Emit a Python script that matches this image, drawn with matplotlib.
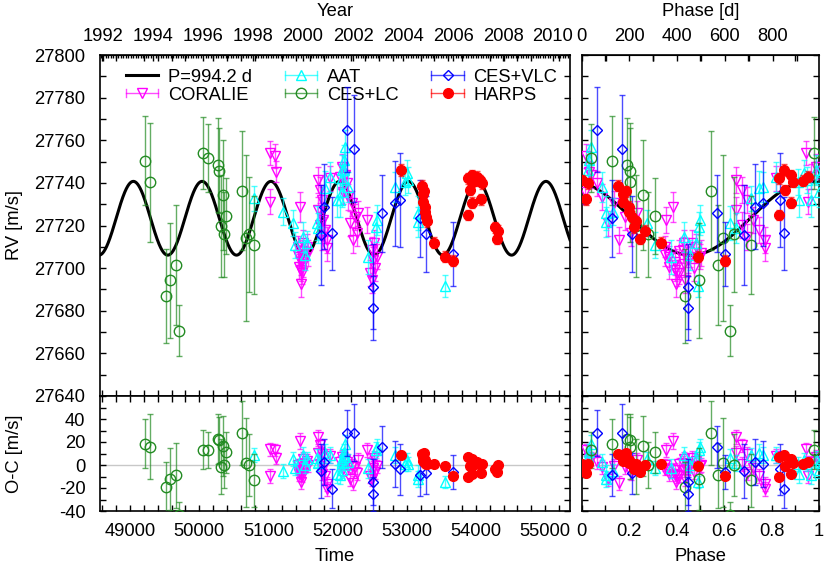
import numpy as np
import matplotlib
matplotlib.use('Agg')
import matplotlib.pyplot as plt
from matplotlib.lines import Line2D
from matplotlib.legend_handler import HandlerBase
from matplotlib.ticker import MultipleLocator, FixedLocator, FuncFormatter

plt.rcParams['font.family'] = ['Liberation Sans', 'DejaVu Sans']
FS = 13.2
plt.rcParams['font.size'] = FS

# ---------------- model parameters ----------------
P = 994.2
K = 17.3
V0 = 27723.4
ECC = 0.0
OMEGA_DEG = 14.4
TP = 49088.0

# ---------------- data (JD-2400000, RV m/s, err m/s) ----------------
cor_t = [51024, 51096, 51106, 51030, 51458, 51472, 51424, 51443, 51467, 51482,
         51506, 51530, 51443, 51482, 51554, 51424, 51506, 51467, 51578, 51723,
         51747, 51771, 51723, 51795, 51819, 51843, 51771, 51891, 51843, 51747,
         52060, 52108, 52133, 52084, 52156, 52205, 52253, 52181, 52277, 52228,
         52422, 52301, 52036, 52494, 52517, 52542, 52470, 52503, 52567, 52532]
cor_rv = [27754.2, 27752.6, 27745.2, 27731.2, 27728.8, 27692.5, 27710.0, 27705.4, 27703.0, 27708.0,
          27712.0, 27705.4, 27700.7, 27697.6, 27710.0, 27706.0, 27702.0, 27699.0, 27707.0, 27741.3,
          27736.6, 27732.0, 27727.3, 27722.6, 27717.9, 27713.2, 27714.7, 27742.1, 27709.3, 27720.2,
          27747.6, 27743.7, 27739.8, 27735.9, 27733.5, 27730.4, 27724.1, 27721.0, 27716.3, 27713.2,
          27722.6, 27725.7, 27742.9, 27708.5, 27703.8, 27700.0, 27697.6, 27694.4, 27705.4, 27712.0]
cor_err = [5.6, 5.5, 5.0, 6.0, 7.0, 6.0, 5.0, 5.0, 6.0, 5.0,
           6.0, 5.0, 6.0, 5.0, 6.0, 5.0, 6.0, 5.0, 6.0, 6.0,
           6.0, 6.0, 6.0, 6.0, 6.0, 6.0, 6.0, 6.0, 6.0, 6.0,
           6.0, 6.0, 6.0, 6.0, 6.0, 6.0, 6.0, 6.0, 6.0, 6.0,
           6.0, 6.0, 6.0, 6.0, 6.0, 6.0, 6.0, 6.0, 6.0, 6.0]

aat_t = [50793, 51207, 51352, 51385, 51506, 51554, 51530, 51699, 51723, 51819,
         51891, 51988, 52069, 52069, 52098, 52108, 52100, 52036, 52156, 52060,
         52445, 52567, 52560, 52831, 53000, 52976, 53015, 53168, 53168, 53554]
aat_rv = [27732.7, 27726.5, 27721.3, 27710.8, 27714.7, 27711.6, 27706.1, 27721.0, 27718.7, 27737.4,
          27742.9, 27732.0, 27735.9, 27742.1, 27746.0, 27757.0, 27750.7, 27732.0, 27738.2, 27746.0,
          27705.4, 27722.6, 27719.4, 27738.2, 27744.5, 27740.5, 27741.3, 27725.7, 27721.8, 27691.6]
aat_err = [6.0, 6.3, 6.0, 6.0, 7.0, 6.0, 7.0, 8.0, 7.0, 8.0,
           7.0, 8.0, 7.0, 6.0, 7.0, 8.0, 7.0, 8.0, 7.0, 7.0,
           8.0, 7.0, 7.0, 7.0, 6.0, 6.0, 6.0, 8.0, 7.0, 5.0]

lc_t = [49217, 49289, 49520, 49578, 49661, 49708, 50060, 50123, 50270, 50285,
        50340, 50311, 50388, 50359, 50624, 50673, 50721, 50793]
lc_rv = [27750.4, 27740.3, 27686.9, 27694.4, 27701.5, 27670.6, 27753.9, 27751.5, 27748.4, 27745.7,
         27734.3, 27719.8, 27724.4, 27715.9, 27736.3, 27714.0, 27715.9, 27710.8]
lc_err = [21, 28, 22, 27, 28, 12, 17, 16, 22, 20,
          26, 24, 18, 20, 28, 39, 27, 23]

vlc_t = [51756, 51804, 51925, 52133, 52238, 52517, 52517, 52639, 52831, 52903,
         53192, 53275, 53665]
vlc_rv = [27715.5, 27728.8, 27716.3, 27765.0, 27756.0, 27691.3, 27681.1, 27725.7, 27730.4, 27732.0,
          27723.4, 27716.0, 27706.6]
vlc_err = [23.5, 20, 17, 20, 25, 20, 15, 18, 20, 22,
           18, 18, 15]

har_t = [52918, 53217, 53250, 53236, 53236, 53265, 53265, 53275, 53294, 53399,
         53554, 53665, 53891, 53940, 53950, 53915, 53940, 53891, 54060, 54085,
         54075, 54012, 53990, 54277, 54325, 54302]
har_rv = [27746.0, 27738.7, 27736.0, 27734.8, 27731.2, 27728.8, 27726.5, 27724.1, 27722.0, 27711.9,
          27705.4, 27703.5, 27742.1, 27743.7, 27740.5, 27736.6, 27730.7, 27724.9, 27741.3, 27739.8,
          27732.3, 27742.9, 27741.0, 27719.1, 27717.6, 27713.7]
har_err = [3.0] + [2.5] * 25

# ---------------- axis settings ----------------
time_lim = (48566, 55361)
rv_lim = (27640, 27800)
oc_lim = (-40, 60)
year_ref_t = 48610.0
year_len = 361.4
phase_day_ticks = [0, 200, 400, 600, 800]


def kepler_rv(t):
    t = np.asarray(t, dtype=float)
    M = 2 * np.pi * (t - TP) / P
    E = M.copy()
    for _ in range(30):
        E = M + ECC * np.sin(E)
    nu = 2 * np.arctan2(np.sqrt(1 + ECC) * np.sin(E / 2), np.sqrt(1 - ECC) * np.cos(E / 2))
    w = np.radians(OMEGA_DEG)
    return V0 + K * (np.cos(nu + w) + ECC * np.cos(w))


def phase_of(t):
    return ((np.asarray(t, dtype=float) - TP) / P) % 1.0


datasets = [
    ('CORALIE', cor_t, cor_rv, cor_err, '#ff00ff', 'v', 'none', 7.0),
    ('AAT', aat_t, aat_rv, aat_err, '#00ffff', '^', 'none', 7.0),
    ('CES+LC', lc_t, lc_rv, lc_err, '#228b22', 'o', 'none', 7.5),
    ('CES+VLC', vlc_t, vlc_rv, vlc_err, '#0000ff', 'D', 'none', 5.5),
    ('HARPS', har_t, har_rv, har_err, '#ff0000', 'o', '#ff0000', 7.0),
]

fig = plt.figure(figsize=(8.3, 5.67), dpi=100)
L0, LW = 100 / 830, 470 / 830
R0, RW = 581.7 / 830, 237.3 / 830
T0y, TH = 1 - 396 / 567, 341 / 567
B0y, BH = 1 - 511 / 567, 115 / 567

ax_rv = fig.add_axes([L0, T0y, LW, TH])
ax_oc = fig.add_axes([L0, B0y, LW, BH])
ax_prv = fig.add_axes([R0, T0y, RW, TH])
ax_poc = fig.add_axes([R0, B0y, RW, BH])

for a in (ax_rv, ax_oc, ax_prv, ax_poc):
    for s in a.spines.values():
        s.set_linewidth(1.2)
    a.tick_params(which='both', direction='in', left=True, right=True, top=True, bottom=True,
                  width=1.0, labelsize=FS)
    a.tick_params(which='major', length=4.5)
    a.tick_params(which='minor', length=4.5)
    a.tick_params(axis='y', pad=10.5)
    a.tick_params(axis='x', pad=8.5)

# model curves
tt = np.linspace(time_lim[0], time_lim[1], 3000)
ax_rv.plot(tt, kepler_rv(tt), color='black', lw=2.2, zorder=2)
pp = np.linspace(0, 1, 600)
ax_prv.plot(pp, kepler_rv(TP + pp * P), color='black', lw=2.2, zorder=2)

for a in (ax_oc, ax_poc):
    a.axhline(0, color='#c8c8c8', lw=1.0, zorder=1)

z = 3
for name, t, rv, err, col, mk, mfc, ms in datasets:
    t = np.asarray(t, float)
    rv = np.asarray(rv, float)
    err = np.asarray(err, float)
    oc = rv - kepler_rv(t)
    ph = phase_of(t)
    kw = dict(fmt=mk, color=col, mfc=mfc, mec=col, ms=ms, mew=1.0, ecolor=col,
              elinewidth=1.0, capsize=2.2, capthick=1.0, zorder=z)
    for a, xx, yy in ((ax_rv, t, rv), (ax_oc, t, oc), (ax_prv, ph, rv), (ax_poc, ph, oc)):
        eb = a.errorbar(xx, yy, yerr=err, **kw)
        for c in eb[2]:
            c.set_alpha(0.7)
        for c in eb[1]:
            c.set_alpha(0.7)
    z += 1

# limits & ticks
for a in (ax_rv, ax_oc):
    a.set_xlim(*time_lim)
    a.xaxis.set_major_locator(MultipleLocator(1000))
    a.xaxis.set_minor_locator(MultipleLocator(200))
for a in (ax_prv, ax_poc):
    a.set_xlim(0, 1)
    a.xaxis.set_major_locator(MultipleLocator(0.2))
    a.xaxis.set_minor_locator(MultipleLocator(0.1))
    a.xaxis.set_major_formatter(FuncFormatter(lambda v, p: '%g' % round(v, 3)))
for a in (ax_rv, ax_prv):
    a.set_ylim(*rv_lim)
    a.yaxis.set_major_locator(MultipleLocator(20))
    a.yaxis.set_minor_locator(MultipleLocator(10))
for a in (ax_oc, ax_poc):
    a.set_ylim(*oc_lim)
    a.yaxis.set_major_locator(FixedLocator([-40, -20, 0, 20, 40, 60]))
    a.yaxis.set_minor_locator(MultipleLocator(10))
    a.yaxis.set_major_formatter(FuncFormatter(lambda v, p: '' if v > 50 else '%d' % v))

ax_rv.tick_params(labelbottom=False, top=False)
ax_prv.tick_params(labelbottom=False, labelleft=False, top=False)
ax_poc.tick_params(labelleft=False)

# top axes
sec_year = ax_rv.secondary_xaxis('top', functions=(lambda t: 1992 + (t - year_ref_t) / year_len,
                                                    lambda y: year_ref_t + (y - 1992) * year_len))
sec_year.xaxis.set_major_locator(MultipleLocator(2))
sec_year.xaxis.set_minor_locator(MultipleLocator(0.1))
sec_year.tick_params(which='both', direction='in', labelsize=FS, width=1.0, pad=7)
sec_year.tick_params(which='major', length=4.5)
sec_year.tick_params(which='minor', length=2.5)
sec_year.set_xlabel('Year', fontsize=FS, labelpad=8.5)

sec_ph = ax_prv.secondary_xaxis('top', functions=(lambda p: p * P, lambda d: d / P))
sec_ph.xaxis.set_major_locator(FixedLocator(phase_day_ticks))
sec_ph.xaxis.set_minor_locator(MultipleLocator(100))
sec_ph.tick_params(which='both', direction='in', labelsize=FS, width=1.0, length=4.5, pad=7)
sec_ph.set_xlabel('Phase [d]', fontsize=FS, labelpad=8.5)

ax_rv.set_ylabel('RV [m/s]', fontsize=FS)
ax_oc.set_ylabel('O-C [m/s]', fontsize=FS)
ax_rv.yaxis.set_label_coords(-0.164, 0.5)
ax_oc.yaxis.set_label_coords(-0.164, 0.5)
ax_oc.set_xlabel('Time', fontsize=FS, labelpad=6)
ax_poc.set_xlabel('Phase', fontsize=FS, labelpad=6)


# legend with horizontal-errorbar style handles
class HErr(HandlerBase):
    def __init__(self, color, marker, mfc, ms):
        super().__init__()
        self.c, self.m, self.mfc, self.ms = color, marker, mfc, ms

    def create_artists(self, legend, orig_handle, xdescent, ydescent, width, height, fontsize, trans):
        y = height / 2 - ydescent
        x0, x1 = -xdescent, -xdescent + width
        arts = [Line2D([x0, x1], [y, y], color=self.c, lw=1.0, alpha=0.7),
                Line2D([x0, x0], [y - 3, y + 3], color=self.c, lw=1.0, alpha=0.7),
                Line2D([x1, x1], [y - 3, y + 3], color=self.c, lw=1.0, alpha=0.7),
                Line2D([(x0 + x1) / 2], [y], marker=self.m, color=self.c, mfc=self.mfc,
                       mec=self.c, ms=self.ms, mew=1.0, linestyle='none')]
        for a in arts:
            a.set_transform(trans)
        return arts


handles = [Line2D([], [], color='black', lw=2.2, label='P=%.1f d' % P)]
hmap = {}
for name, t, rv, err, col, mk, mfc, ms in datasets:
    h = Line2D([], [], label=name)
    handles.append(h)
    hmap[h] = HErr(col, mk, mfc, ms)

leg = ax_rv.legend(handles=handles, handler_map=hmap, ncol=3, loc='upper left',
                   bbox_to_anchor=(0.025, 1.0), frameon=False, fontsize=FS,
                   handlelength=1.75, handletextpad=0.55, columnspacing=1.8,
                   labelspacing=0.05, borderaxespad=0.35)

fig.savefig('out.png', dpi=100)
